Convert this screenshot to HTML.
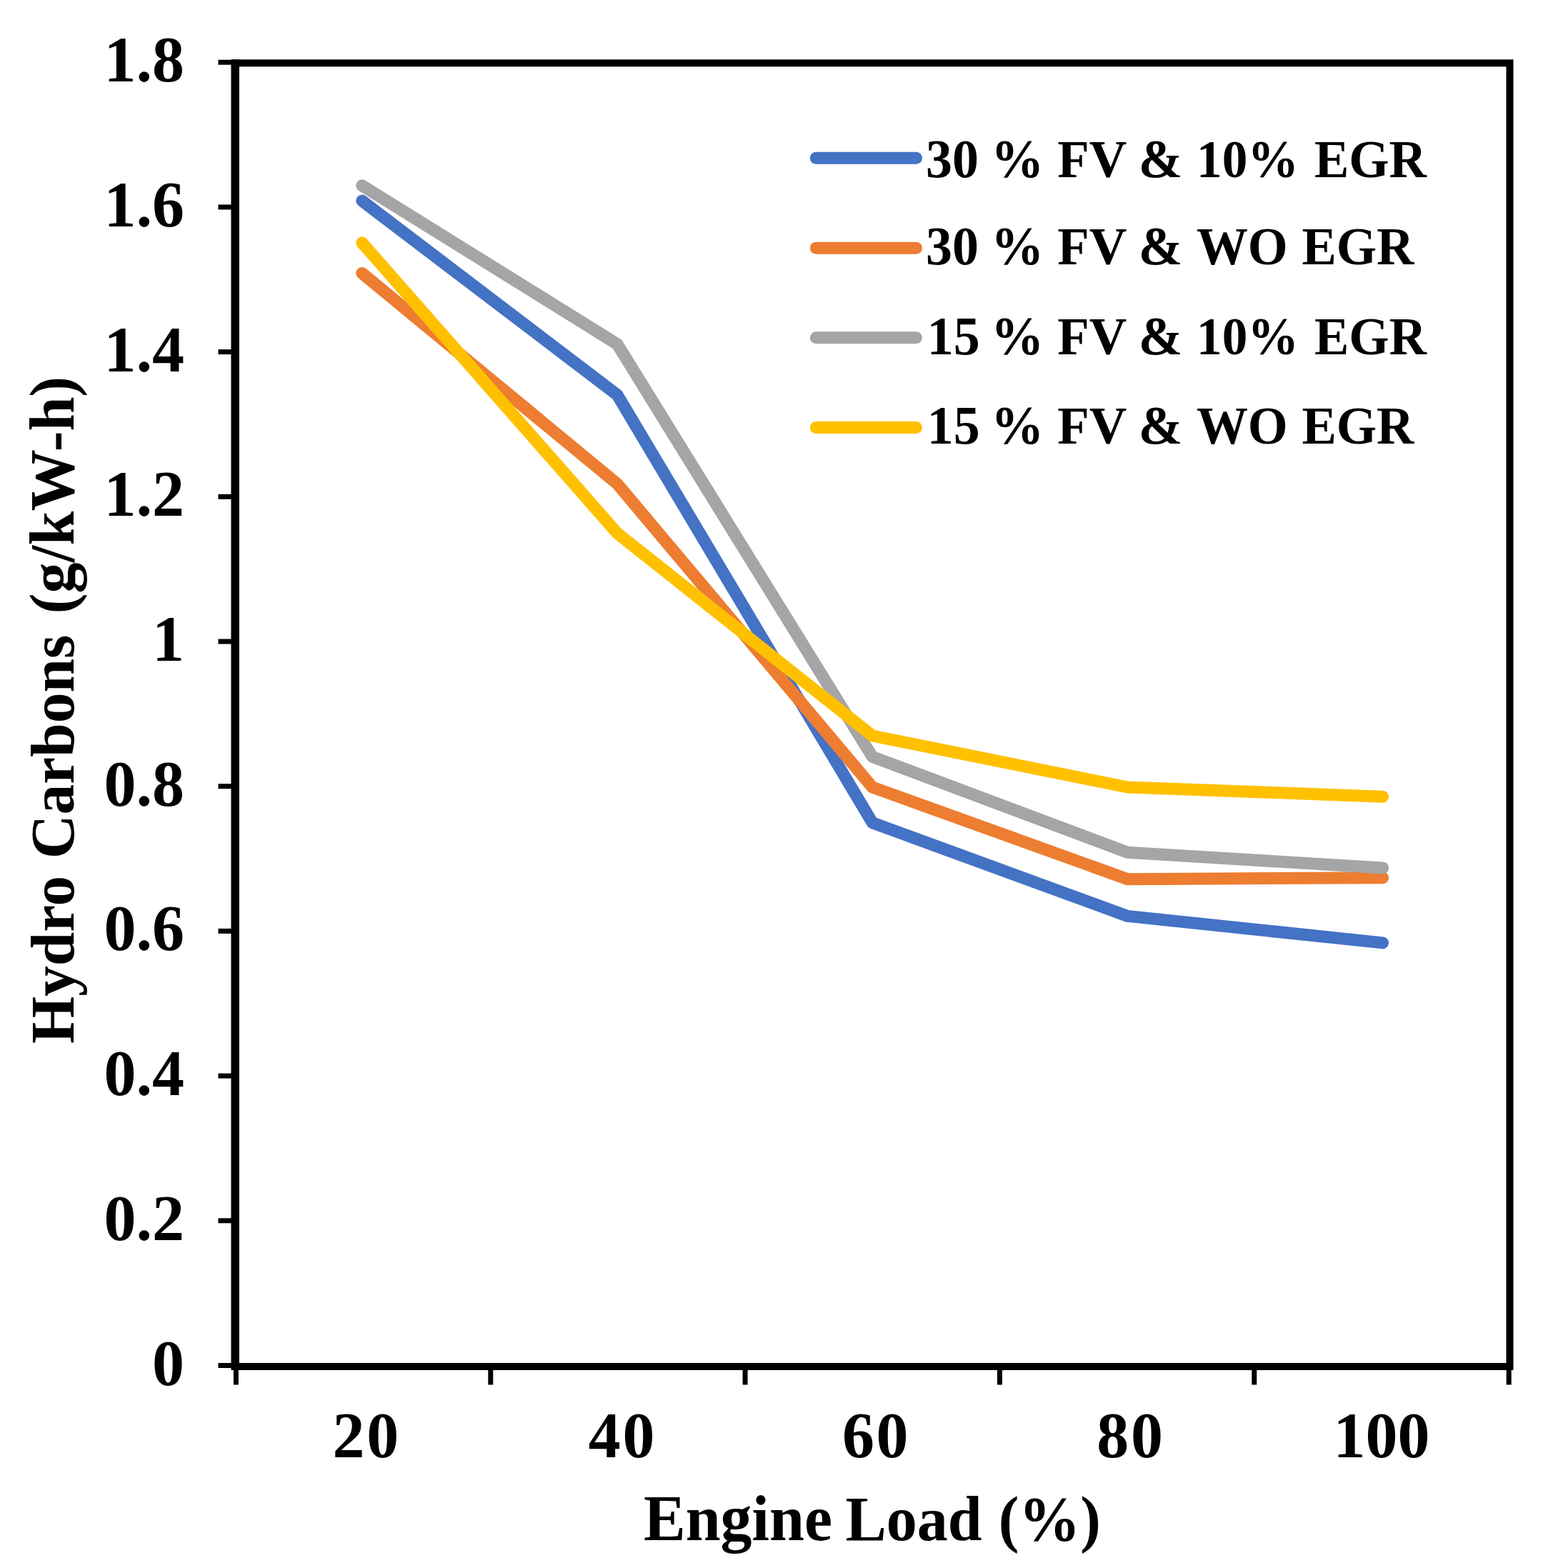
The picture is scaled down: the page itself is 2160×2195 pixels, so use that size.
<!DOCTYPE html><html><head><meta charset="utf-8"><title>Hydro Carbons vs Engine Load</title><style>html,body{margin:0;padding:0;background:#fff;}svg{display:block;filter:blur(0.6px);}</style></head><body>
<svg width="2160" height="2195" viewBox="0 0 2160 2195">
<rect width="2160" height="2195" fill="#fff"/>
<rect x="329.2" y="88.3" width="1784.3" height="1824.7" fill="none" stroke="#000" stroke-width="10"/>
<line x1="329.2" y1="83.3" x2="329.2" y2="1918.0" stroke="#000" stroke-width="11.5"/>
<line x1="305.5" y1="1911.5" x2="329.2" y2="1911.5" stroke="#000" stroke-width="7"/>
<line x1="305.5" y1="1708.8" x2="329.2" y2="1708.8" stroke="#000" stroke-width="7"/>
<line x1="305.5" y1="1506.1" x2="329.2" y2="1506.1" stroke="#000" stroke-width="7"/>
<line x1="305.5" y1="1303.4" x2="329.2" y2="1303.4" stroke="#000" stroke-width="7"/>
<line x1="305.5" y1="1100.7" x2="329.2" y2="1100.7" stroke="#000" stroke-width="7"/>
<line x1="305.5" y1="898.0" x2="329.2" y2="898.0" stroke="#000" stroke-width="7"/>
<line x1="305.5" y1="695.3" x2="329.2" y2="695.3" stroke="#000" stroke-width="7"/>
<line x1="305.5" y1="492.6" x2="329.2" y2="492.6" stroke="#000" stroke-width="7"/>
<line x1="305.5" y1="289.9" x2="329.2" y2="289.9" stroke="#000" stroke-width="7"/>
<line x1="305.5" y1="87.2" x2="329.2" y2="87.2" stroke="#000" stroke-width="7"/>
<line x1="330.4" y1="1913.0" x2="330.4" y2="1938.5" stroke="#000" stroke-width="7"/>
<line x1="686.8" y1="1913.0" x2="686.8" y2="1938.5" stroke="#000" stroke-width="7"/>
<line x1="1043.1" y1="1913.0" x2="1043.1" y2="1938.5" stroke="#000" stroke-width="7"/>
<line x1="1399.5" y1="1913.0" x2="1399.5" y2="1938.5" stroke="#000" stroke-width="7"/>
<line x1="1755.8" y1="1913.0" x2="1755.8" y2="1938.5" stroke="#000" stroke-width="7"/>
<line x1="2112.2" y1="1913.0" x2="2112.2" y2="1938.5" stroke="#000" stroke-width="7"/>
<polyline points="506.8,281.1 864.0,552.7 1221.2,1151.7 1578.4,1282.4 1935.6,1319.9" fill="none" stroke="#4472C4" stroke-width="17" stroke-linecap="round" stroke-linejoin="round"/>
<polyline points="506.8,382.4 864.0,677.3 1221.2,1102.0 1578.4,1230.7 1935.6,1228.7" fill="none" stroke="#ED7D31" stroke-width="17" stroke-linecap="round" stroke-linejoin="round"/>
<polyline points="506.8,259.8 864.0,481.7 1221.2,1059.4 1578.4,1193.2 1935.6,1215.0" fill="none" stroke="#A5A5A5" stroke-width="17" stroke-linecap="round" stroke-linejoin="round"/>
<polyline points="506.8,339.8 864.0,746.3 1221.2,1030.0 1578.4,1102.0 1935.6,1115.2" fill="none" stroke="#FFC000" stroke-width="17" stroke-linecap="round" stroke-linejoin="round"/>
<text x="258" y="1938.5" font-family="Liberation Serif, 'Times New Roman', serif" font-weight="bold" font-size="90" text-anchor="end">0</text>
<text x="258" y="1735.8" font-family="Liberation Serif, 'Times New Roman', serif" font-weight="bold" font-size="90" text-anchor="end">0.2</text>
<text x="258" y="1533.1" font-family="Liberation Serif, 'Times New Roman', serif" font-weight="bold" font-size="90" text-anchor="end">0.4</text>
<text x="258" y="1330.4" font-family="Liberation Serif, 'Times New Roman', serif" font-weight="bold" font-size="90" text-anchor="end">0.6</text>
<text x="258" y="1127.7" font-family="Liberation Serif, 'Times New Roman', serif" font-weight="bold" font-size="90" text-anchor="end">0.8</text>
<text x="258" y="925.0" font-family="Liberation Serif, 'Times New Roman', serif" font-weight="bold" font-size="90" text-anchor="end">1</text>
<text x="258" y="722.3" font-family="Liberation Serif, 'Times New Roman', serif" font-weight="bold" font-size="90" text-anchor="end">1.2</text>
<text x="258" y="519.6" font-family="Liberation Serif, 'Times New Roman', serif" font-weight="bold" font-size="90" text-anchor="end">1.4</text>
<text x="258" y="316.9" font-family="Liberation Serif, 'Times New Roman', serif" font-weight="bold" font-size="90" text-anchor="end">1.6</text>
<text x="258" y="114.2" font-family="Liberation Serif, 'Times New Roman', serif" font-weight="bold" font-size="90" text-anchor="end">1.8</text>
<text x="465.6" y="2039.5" font-family="Liberation Serif, 'Times New Roman', serif" font-weight="bold" font-size="90" letter-spacing="2.6">20</text>
<text x="823.8" y="2039.5" font-family="Liberation Serif, 'Times New Roman', serif" font-weight="bold" font-size="90" letter-spacing="2.6">40</text>
<text x="1179.0" y="2039.5" font-family="Liberation Serif, 'Times New Roman', serif" font-weight="bold" font-size="90" letter-spacing="2.6">60</text>
<text x="1535.3" y="2039.5" font-family="Liberation Serif, 'Times New Roman', serif" font-weight="bold" font-size="90" letter-spacing="2.6">80</text>
<text x="1866.4" y="2039.5" font-family="Liberation Serif, 'Times New Roman', serif" font-weight="bold" font-size="90">100</text>
<g transform="translate(0,2155.7) scale(1,1.03)"><text y="0" font-family="Liberation Serif, 'Times New Roman', serif" font-weight="bold" font-size="88"><tspan x="901.0" font-size="88">Engine</tspan> <tspan x="1183.5" font-size="86">Load</tspan> <tspan x="1397.7" font-size="86">(%)</tspan></text></g>
<text transform="translate(103.4,0) rotate(-90) scale(1,1.025)" font-family="Liberation Serif, 'Times New Roman', serif" font-weight="bold" font-size="85.5"><tspan x="-1461.1" font-size="85.2">Hydro</tspan> <tspan x="-1202.2" font-size="85.5">Carbons</tspan> <tspan x="-859.3" font-size="86.3">(g/kW-h)</tspan></text>
<line x1="1142.3" y1="221.2" x2="1282.5" y2="221.2" stroke="#4472C4" stroke-width="17" stroke-linecap="round"/>
<g transform="translate(0,247.7) scale(1,1.03)"><text y="0" font-family="Liberation Serif, 'Times New Roman', serif" font-weight="bold" font-size="74"><tspan x="1295.9" font-size="74">30</tspan> <tspan x="1387.3" font-size="74">%</tspan> <tspan x="1480.2" font-size="72.8">FV</tspan> <tspan x="1593.7" font-size="74">&amp;</tspan> <tspan x="1675.1" font-size="71.4">10%</tspan> <tspan x="1839.9" font-size="72.5">EGR</tspan></text></g>
<line x1="1142.3" y1="347.3" x2="1282.5" y2="347.3" stroke="#ED7D31" stroke-width="17" stroke-linecap="round"/>
<g transform="translate(0,369.7) scale(1,1.03)"><text y="0" font-family="Liberation Serif, 'Times New Roman', serif" font-weight="bold" font-size="74"><tspan x="1295.9" font-size="74">30</tspan> <tspan x="1387.3" font-size="74">%</tspan> <tspan x="1480.2" font-size="72.8">FV</tspan> <tspan x="1593.7" font-size="74">&amp;</tspan> <tspan x="1675.0" font-size="71.9">WO</tspan> <tspan x="1822.4" font-size="72.5">EGR</tspan></text></g>
<line x1="1142.3" y1="472.8" x2="1282.5" y2="472.8" stroke="#A5A5A5" stroke-width="17" stroke-linecap="round"/>
<g transform="translate(0,495.6) scale(1,1.03)"><text y="0" font-family="Liberation Serif, 'Times New Roman', serif" font-weight="bold" font-size="74"><tspan x="1297.7" font-size="74">15</tspan> <tspan x="1387.3" font-size="74">%</tspan> <tspan x="1480.2" font-size="72.8">FV</tspan> <tspan x="1593.7" font-size="74">&amp;</tspan> <tspan x="1675.1" font-size="71.4">10%</tspan> <tspan x="1839.9" font-size="72.5">EGR</tspan></text></g>
<line x1="1142.3" y1="598.4" x2="1282.5" y2="598.4" stroke="#FFC000" stroke-width="17" stroke-linecap="round"/>
<g transform="translate(0,621.2) scale(1,1.03)"><text y="0" font-family="Liberation Serif, 'Times New Roman', serif" font-weight="bold" font-size="74"><tspan x="1297.7" font-size="74">15</tspan> <tspan x="1387.3" font-size="74">%</tspan> <tspan x="1480.2" font-size="72.8">FV</tspan> <tspan x="1593.7" font-size="74">&amp;</tspan> <tspan x="1675.0" font-size="71.9">WO</tspan> <tspan x="1822.4" font-size="72.5">EGR</tspan></text></g>
</svg></body></html>
